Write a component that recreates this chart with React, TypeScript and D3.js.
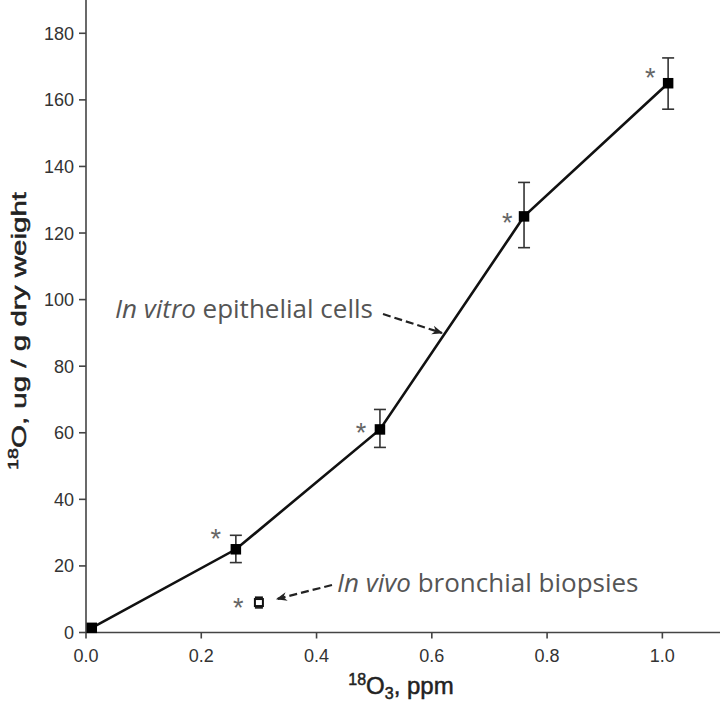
import React from "react";
import * as d3 from "d3";

const doseX = [0.01, 0.26, 0.51, 0.76, 1.01];
const vitroY = [1.4, 25, 61, 125, 165];
const vitroErrHi = [1.4, 29.2, 67, 135.2, 172.6];
const vitroErrLo = [1.4, 21, 55.6, 115.6, 157.2];
// significance asterisks (x in ppm, y in ug/g) — null where absent
const starX = [null, 0.225, 0.477, 0.731, 0.979];
const starY = [null, 29.5, 61.3, 124.5, 168];

const vivoX = [0.3];
const vivoY = [9];
const vivoErrHi = [10.3];
const vivoErrLo = [7.7];
const vivoStarX = [0.264];
const vivoStarY = [8.6];

const xTicks = [0, 0.2, 0.4, 0.6, 0.8, 1.0];
const yTicks = [0, 20, 40, 60, 80, 100, 120, 140, 160, 180];

export default function App() {
  const W = 720, H = 703;
  const x = d3.scaleLinear().domain([0, 1.1]).range([86, 720]);
  const y = d3.scaleLinear().domain([0, 190]).range([632.5, 0]);
  const line = d3.line<number>().x((_, i) => x(doseX[i])).y((d) => y(d));
  const tickColor = "#333";
  const fontA = "Liberation Sans, Arial, sans-serif";
  const fontB = "Open Sans, Noto Sans, sans-serif";
  const ms = 10.5;
  const starFs = 27;
  const Star = ({ cx, cy }: { cx: number; cy: number }) => (
    <text x={cx} y={cy + starFs * 0.5} textAnchor="middle" fontFamily={fontA} fontSize={starFs} fill="#666">
      *
    </text>
  );
  return (
    <svg width={W} height={H} style={{ position: "absolute", left: 0, top: 0, background: "#fff" }}>
      <defs>
        <marker id="ah" viewBox="0 0 10 10" refX="9" refY="5" markerWidth="11" markerHeight="11" orient="auto" markerUnits="userSpaceOnUse">
          <path d="M0,1 L10,5 L0,9 L3,5 Z" fill="#222" />
        </marker>
      </defs>
      {/* axes */}
      <line x1={x(0)} x2={x(0)} y1={0} y2={y(0)} stroke="#444" strokeWidth={1.6} />
      <line x1={x(0)} x2={W} y1={y(0)} y2={y(0)} stroke="#444" strokeWidth={1.6} />
      {yTicks.map((t) => (
        <g key={"y" + t}>
          <line x1={x(0) - 7} x2={x(0)} y1={y(t)} y2={y(t)} stroke="#444" strokeWidth={1.6} />
          <text x={x(0) - 12} y={y(t)} dy="0.36em" textAnchor="end" fontFamily={fontA} fontSize={18} fill={tickColor}>
            {t}
          </text>
        </g>
      ))}
      {xTicks.map((t) => (
        <g key={"x" + t}>
          <line x1={x(t)} x2={x(t)} y1={y(0)} y2={y(0) + 6} stroke="#444" strokeWidth={1.6} />
          <text x={x(t)} y={662} textAnchor="middle" fontFamily={fontA} fontSize={18} fill={tickColor}>
            {t.toFixed(1)}
          </text>
        </g>
      ))}
      {/* axis labels */}
      <text x={401} y={694} textAnchor="middle" fontFamily={fontA} fontSize={24} fill="#222" stroke="#222" strokeWidth={0.5}>
        <tspan fontSize={16} dy="-9">18</tspan>
        <tspan dy="9">O</tspan>
        <tspan fontSize={16} dy="5">3</tspan>
        <tspan dy="-5">, ppm</tspan>
      </text>
      <text
        transform="translate(26,331) rotate(-90)"
        textAnchor="middle"
        fontFamily={fontA}
        fontSize={21}
        fill="#222"
        stroke="#222"
        strokeWidth={0.5}
        textLength={278}
        lengthAdjust="spacingAndGlyphs"
      >
        <tspan fontSize={14} dy="-8">18</tspan>
        <tspan dy="8">O, ug / g dry weight</tspan>
      </text>
      {/* line */}
      <path d={line(vitroY) || ""} fill="none" stroke="#111" strokeWidth={2.6} />
      {/* error bars */}
      {doseX.map((d, i) =>
        vitroErrHi[i] - vitroErrLo[i] > 1 ? (
          <g key={"e" + i} stroke="#333" strokeWidth={1.6}>
            <line x1={x(d)} x2={x(d)} y1={y(vitroErrHi[i])} y2={y(vitroErrLo[i])} />
            <line x1={x(d) - 6} x2={x(d) + 6} y1={y(vitroErrHi[i])} y2={y(vitroErrHi[i])} />
            <line x1={x(d) - 6} x2={x(d) + 6} y1={y(vitroErrLo[i])} y2={y(vitroErrLo[i])} />
          </g>
        ) : null
      )}
      {doseX.map((d, i) => (
        <rect key={"m" + i} x={x(d) - ms / 2} y={y(vitroY[i]) - ms / 2} width={ms} height={ms} fill="#000" />
      ))}
      {starX.map((sx, i) => (sx !== null && starY[i] !== null ? <Star key={"s" + i} cx={x(sx)} cy={y(starY[i] as number)} /> : null))}
      {/* in vivo */}
      {vivoX.map((d, i) => (
        <g key={"v" + i}>
          <line x1={x(d) - 4} x2={x(d) + 4} y1={y(vivoErrHi[i]) - 1} y2={y(vivoErrHi[i]) - 1} stroke="#111" strokeWidth={1.6} />
          <line x1={x(d) - 4} x2={x(d) + 4} y1={y(vivoErrLo[i]) + 1} y2={y(vivoErrLo[i]) + 1} stroke="#111" strokeWidth={1.6} />
          <rect x={x(d) - 4} y={y(vivoY[i]) - 3.5} width={8} height={7} fill="#fff" stroke="#111" strokeWidth={2} />
          <Star cx={x(vivoStarX[i])} cy={y(vivoStarY[i])} />
        </g>
      ))}
      {/* annotations */}
      <text x={115} y={318} fontFamily={fontB} fontSize={26} fill="#555">
        <tspan fontStyle="italic">In vitro</tspan>
        <tspan> epithelial cells</tspan>
      </text>
      <line x1={383} y1={314} x2={442} y2={333} stroke="#222" strokeWidth={2.2} strokeDasharray="8,4" markerEnd="url(#ah)" />
      <text x={337} y={592} fontFamily={fontB} fontSize={26} fill="#555">
        <tspan fontStyle="italic">In vivo</tspan>
        <tspan> bronchial biopsies</tspan>
      </text>
      <line x1={332} y1={585} x2={277} y2={599} stroke="#222" strokeWidth={2.2} strokeDasharray="8,4" markerEnd="url(#ah)" />
    </svg>
  );
}
